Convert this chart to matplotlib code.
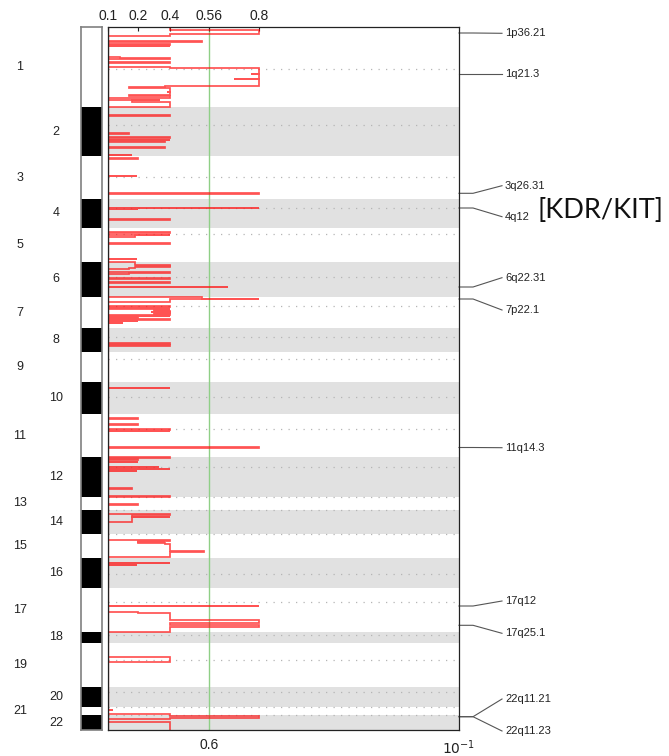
import numpy as np
import matplotlib
matplotlib.use("Agg")
import matplotlib.pyplot as plt
from matplotlib.transforms import blended_transform_factory

plt.rcParams['font.family'] = ['Liberation Sans', 'DejaVu Sans']

# chromosomes, top to bottom, sizes in genome units (as drawn)
chrom_names = [str(i) for i in range(1, 23)]
chrom_len = [80.3, 48.7, 43.3, 28.4, 34.0, 35.0, 31.6, 23.4, 30.0, 32.3, 43.3,
             39.4, 13.3, 24.3, 24.0, 30.0, 43.4, 11.0, 44.0, 20.6, 7.7, 15.0]
centromere = [42, 98, 150, 181, 207, 249.7, 278.7, 309.7, 332, 369.7, 402,
              440, 470, 483, 507.3, 547, 575, 608, 633, 665, 680.3, 688]

# amplification G-score segments (start, end, G); everything else is baseline
seg_start = [0.0, 3.0, 7.3, 14.4, 17.0, 18.5, 30.0, 30.6, 31.0, 35.4, 40.0, 40.8, 46.7, 47.3, 51.7, 52.3, 59.0, 59.7, 61.3, 64.7, 65.3, 68.0, 68.6, 72.5, 73.2, 74.5, 75.3,
             88.4, 106.0, 110.0, 112.7, 114.4, 120.0, 127.7,
             131.0, 148.7, 166.0,
             180.6, 181.6, 192.0,
             205.4, 207.7, 208.3, 216.0, 231.7,
             234.5, 238.0, 238.6, 239.4, 240.0, 240.7, 245.3, 245.9, 251.0, 255.0, 259.7,
             269.5, 271.6, 272.4, 279.0, 280.5, 282.0, 282.6, 283.2, 284.0, 284.6, 285.4, 286.0, 287.0, 288.5, 290.0, 292.0, 293.5, 295.5,
             316.3, 318.0,
             360.7,
             391.3, 397.0, 402.3, 403.6, 420.2,
             430.3, 432.4, 434.5, 439.7, 441.7, 443.5, 461.3, 469.4,
             477.3,
             487.3, 488.0, 489.5, 490.1,
             513.0, 513.6, 514.6, 515.4, 516.3, 517.2, 524.0, 525.0,
             535.7, 537.7,
             578.7, 585.3, 586.3, 593.0, 595.5, 597.5, 599.7,
             630.3,
             682.7,
             687.3, 689.0, 690.5, 694.7]
seg_end = [3.0, 7.3, 8.7, 15.0, 17.6, 19.1, 30.6, 31.0, 31.6, 36.0, 40.8, 46.7, 47.3, 51.7, 52.3, 59.0, 59.7, 61.3, 64.7, 65.3, 68.0, 68.6, 70.7, 73.2, 74.5, 75.3, 79.7,
           89.0, 106.6, 110.6, 113.3, 115.0, 120.6, 128.3,
           131.6, 149.4, 166.7,
           181.2, 182.2, 192.6,
           206.0, 208.3, 209.5, 216.6, 232.3,
           238.0, 238.6, 239.4, 240.0, 240.7, 242.0, 245.9, 247.3, 251.6, 255.6, 260.4,
           271.6, 272.4, 275.0, 279.6, 281.0, 282.6, 283.2, 284.0, 284.6, 285.4, 286.0, 287.0, 287.6, 289.1, 290.6, 292.6, 294.1, 296.0,
           316.9, 318.6,
           361.3,
           391.9, 397.6, 402.9, 404.2, 420.8,
           430.9, 433.0, 435.1, 440.3, 442.3, 444.1, 461.9, 470.0,
           477.9,
           488.0, 489.5, 490.1, 494.7,
           513.6, 514.6, 515.4, 516.3, 517.2, 524.0, 525.0, 530.3,
           536.3, 538.3,
           579.3, 586.3, 593.0, 595.5, 597.5, 599.7, 604.7,
           634.7,
           683.3,
           689.0, 690.5, 691.5, 703.0]
seg_g = [0.4, 0.8, 0.4, 0.53, 0.4, 0.4, 0.14, 0.2, 0.4, 0.4, 0.4, 0.8, 0.76, 0.8, 0.68, 0.8, 0.37, 0.17, 0.4, 0.38, 0.4, 0.17, 0.4, 0.34, 0.18, 0.34, 0.4,
         0.4, 0.17, 0.4, 0.4, 0.37, 0.37, 0.18,
         0.2, 0.195, 0.8,
         0.8, 0.2, 0.4,
         0.4, 0.4, 0.19, 0.4, 0.195,
         0.19, 0.4, 0.19, 0.4, 0.19, 0.17, 0.4, 0.17, 0.4, 0.4, 0.65,
         0.53, 0.8, 0.4, 0.4, 0.4, 0.34, 0.4, 0.3, 0.4, 0.28, 0.4, 0.3, 0.4, 0.4, 0.2, 0.4, 0.2, 0.15,
         0.4, 0.4,
         0.4,
         0.2, 0.2, 0.4, 0.4, 0.8,
         0.4, 0.2, 0.2, 0.33, 0.4, 0.195, 0.18, 0.4,
         0.2,
         0.4, 0.18, 0.4, 0.18,
         0.4, 0.2, 0.37, 0.2, 0.37, 0.4, 0.54, 0.4,
         0.4, 0.195,
         0.8, 0.2, 0.4, 0.8, 0.4, 0.8, 0.4,
         0.4,
         0.115,
         0.4, 0.8, 0.4, 0.4]
baseline_g = 0.1
threshold_g = 0.56

# peaks
peak_names = ['1p36.21', '1q21.3', '3q26.31', '4q12', '6q22.31', '7p22.1',
              '11q14.3', '17q12', '17q25.1', '22q11.21', '22q11.23']
peak_pos = [6.0, 47.0, 166.3, 181.0, 260.0, 272.0, 420.5, 579.0, 598.3, 689.7, 689.7]

top_ticks = [0.1, 0.2, 0.4, 0.56, 0.8]
top_labels = ['0.1', '0.2', '0.4', '0.56', '0.8']
q_tick_labels = ['0.6', '$10^{-1}$']

# nonlinear G axis (piecewise, as on the original)
g_knots = [0.1, 0.2, 0.4, 0.56, 0.8, 1.76]
px_knots = [0, 30, 62, 101, 151, 351]
fwd = lambda g: np.interp(g, g_knots, px_knots)
inv = lambda p: np.interp(p, px_knots, g_knots)
gmin, gmax = g_knots[0], g_knots[-1]

genome_len = sum(chrom_len)
chrom_start = np.concatenate([[0], np.cumsum(chrom_len)[:-1]])
chrom_mid = chrom_start + np.array(chrom_len) / 2

# step function
edges = [0.0]
vals = []
for s, e, g in zip(seg_start, seg_end, seg_g):
    if s > edges[-1]:
        vals.append(baseline_g)
        edges.append(s)
    vals.append(g)
    edges.append(e)
if edges[-1] < genome_len:
    vals.append(baseline_g)
    edges.append(genome_len)

W, H = 669, 756
fig = plt.figure(figsize=(W / 100, H / 100), dpi=100)
ax = fig.add_axes([108 / W, 1 - 730 / H, 351 / W, 703 / H])
ideo = fig.add_axes([81 / W, 1 - 730 / H, 21 / W, 703 / H])

ax.set_xscale('function', functions=(fwd, inv))
ax.set_xlim(gmin, gmax)
ax.set_ylim(genome_len, 0)

for i in range(1, 22, 2):
    ax.axhspan(chrom_start[i], chrom_start[i] + chrom_len[i], color='#e1e1e1', lw=0, zorder=0)
ax.hlines(centromere, gmin, gmax, colors='#b5b5b5', linestyles=(0, (1, 5)), lw=0.9, zorder=1)
ax.axvline(threshold_g, color='#8fcf86', lw=1, zorder=1.5)
ax.stairs(vals, edges, orientation='horizontal', baseline=None,
          color='#ff1010', alpha=0.72, lw=1.25, zorder=2)
# dark baseline trace along the left edge
ax.axvline(gmin, color='#8a1010', lw=1.6, zorder=2.5)

ax.xaxis.tick_top()
ax.set_xticks(top_ticks)
ax.set_xticklabels(top_labels)
ax.tick_params(axis='x', direction='in', length=3, labelsize=10, pad=3, colors='#222')
ax.set_yticks([])
for sp in ax.spines.values():
    sp.set_linewidth(0.9)
    sp.set_color('#222')
    sp.set_zorder(3)

# bottom q-value labels
tb = blended_transform_factory(ax.transData, ax.transAxes)
ax.text(threshold_g, -0.012, q_tick_labels[0], transform=tb,
        ha='center', va='top', fontsize=10, color='#222')
ax.text(gmax, -0.012, q_tick_labels[1], transform=tb,
        ha='center', va='top', fontsize=10, color='#222')

# ideogram
ideo.barh(chrom_mid, 1, height=chrom_len, left=0,
          color=['white' if i % 2 == 0 else 'black' for i in range(22)], lw=0)
ideo.set_xlim(0, 1)
ideo.set_ylim(genome_len, 0)
ideo.set_xticks([])
ideo.set_yticks([])
for sp in ideo.spines.values():
    sp.set_color('#808080')
    sp.set_linewidth(1.2)

# chromosome numbers
tr = blended_transform_factory(fig.transFigure, ax.transData)
for i, name in enumerate(chrom_names):
    x = 20 / W if i % 2 == 0 else 56 / W
    ax.text(x, chrom_mid[i], name, transform=tr, ha='center', va='center', fontsize=9, color='#222')

# peak labels with leader lines
label_pos = [6.3, 47.0, 158.7, 189.7, 250.7, 283.0, 420.7, 574.0, 606.3, 672.0, 704.0]
tl = blended_transform_factory(ax.transAxes, ax.transData)
for name, pk, lab in zip(peak_names, peak_pos, label_pos):
    ax.plot([1.0, 1.04, 1.1225], [pk, pk, lab], transform=tl, clip_on=False,
            color='#555', lw=0.8)
    ax.text(1.131, lab, name, transform=tl, ha='left', va='center', fontsize=8, color='#222')

fig.text(538 / W, 1 - 210 / H, '[KDR/KIT]', ha='left', va='center', fontsize=19.5,
         family=['Lato', 'DejaVu Sans'], color='#111')

fig.savefig('out.png', dpi=100)
